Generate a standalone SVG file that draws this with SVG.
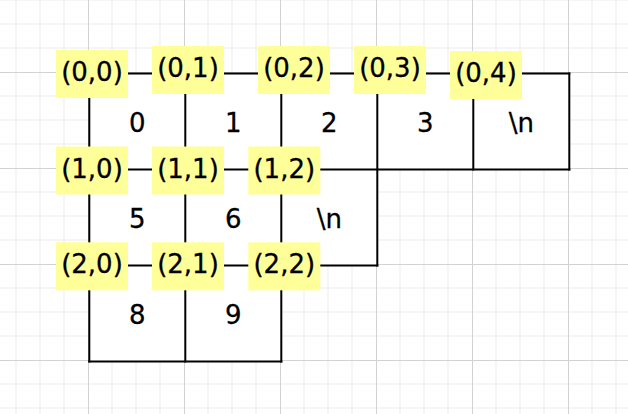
<svg xmlns="http://www.w3.org/2000/svg" width="628" height="414" viewBox="0 0 628 414">
  <style>
    .minor { stroke: #ebebeb; stroke-width: 1; fill: none; }
    .major { stroke: #d2d2d2; stroke-width: 1; fill: none; }
    .cell rect { fill: #ffffff; stroke: none; }
    .cell text { font-family: "DejaVu Sans", sans-serif; font-size: 26px; fill: #000000; stroke: #000000; stroke-width: 0.3; text-anchor: middle; }
    .edge { stroke: #000000; stroke-width: 2; fill: none; stroke-linecap: square; }
    .label rect { fill: #ffff99; stroke: none; }
    .label text { font-family: "DejaVu Sans", sans-serif; font-size: 26px; fill: #000000; stroke: #000000; stroke-width: 0.3; text-anchor: middle; }
  </style>
  <rect x="0" y="0" width="628" height="414" fill="#ffffff"/>
  <g id="grid">
    <path class="minor" d="M16 0V414M40 0V414M64 0V414M112 0V414M136 0V414M160 0V414M208 0V414M232 0V414M256 0V414M304 0V414M328 0V414M352 0V414M400 0V414M424 0V414M448 0V414M496 0V414M520 0V414M544 0V414M592 0V414M616 0V414M0 0H628M0 24H628M0 48H628M0 96H628M0 120H628M0 144H628M0 192H628M0 216H628M0 240H628M0 288H628M0 312H628M0 336H628M0 384H628M0 408H628"/>
    <path class="major" d="M88.5 0V414M184.5 0V414M280.5 0V414M376.5 0V414M472.5 0V414M568.5 0V414M0 72.5H628M0 168.5H628M0 264.5H628M0 360.5H628"/>
  </g>
  <g id="cells">
    <g id="cell-0" class="cell"><rect x="89.3" y="73.5" width="96" height="96"/><text x="137.3" y="132">0</text></g>
    <g id="cell-1" class="cell"><rect x="185.3" y="73.5" width="96" height="96"/><text x="233.3" y="132">1</text></g>
    <g id="cell-2" class="cell"><rect x="281.3" y="73.5" width="96" height="96"/><text x="329.3" y="132">2</text></g>
    <g id="cell-3" class="cell"><rect x="377.3" y="73.5" width="96" height="96"/><text x="425.3" y="132">3</text></g>
    <g id="cell-4" class="cell"><rect x="473.3" y="73.5" width="96" height="96"/><text x="521.3" y="132">\n</text></g>
    <g id="cell-5" class="cell"><rect x="89.3" y="169.5" width="96" height="96"/><text x="137.3" y="228">5</text></g>
    <g id="cell-6" class="cell"><rect x="185.3" y="169.5" width="96" height="96"/><text x="233.3" y="228">6</text></g>
    <g id="cell-7" class="cell"><rect x="281.3" y="169.5" width="96" height="96"/><text x="329.3" y="228">\n</text></g>
    <g id="cell-8" class="cell"><rect x="89.3" y="265.5" width="96" height="96"/><text x="137.3" y="324">8</text></g>
    <g id="cell-9" class="cell"><rect x="185.3" y="265.5" width="96" height="96"/><text x="233.3" y="324">9</text></g>
  </g>
  <g id="connectors">
    <path class="edge" d="M89.3 73.5H569.3M89.3 169.5H569.3M89.3 265.5H377.3M89.3 361.5H281.3"/>
    <path class="edge" d="M89.3 73.5V361.5M185.3 73.5V361.5M281.3 73.5V361.5M377.3 73.5V265.5M473.3 73.5V169.5M569.3 73.5V169.5"/>
  </g>
  <g id="labels">
    <g id="label-0-0" class="label"><rect x="56" y="50" width="72" height="48"/><text x="92" y="81">(0,0)</text></g>
    <g id="label-0-1" class="label"><rect x="152" y="46" width="72" height="48"/><text x="188" y="77">(0,1)</text></g>
    <g id="label-0-2" class="label"><rect x="258" y="46" width="72" height="48"/><text x="294" y="77">(0,2)</text></g>
    <g id="label-0-3" class="label"><rect x="354" y="46" width="72" height="48"/><text x="390" y="77">(0,3)</text></g>
    <g id="label-0-4" class="label"><rect x="450" y="51" width="72" height="48"/><text x="486" y="82">(0,4)</text></g>
    <g id="label-1-0" class="label"><rect x="56" y="146.5" width="72" height="48"/><text x="92" y="177.5">(1,0)</text></g>
    <g id="label-1-1" class="label"><rect x="152" y="146.5" width="72" height="48"/><text x="188" y="177.5">(1,1)</text></g>
    <g id="label-1-2" class="label"><rect x="248.3" y="146.5" width="72" height="48"/><text x="284.3" y="177.5">(1,2)</text></g>
    <g id="label-2-0" class="label"><rect x="56" y="242.3" width="72" height="48"/><text x="92" y="273.3">(2,0)</text></g>
    <g id="label-2-1" class="label"><rect x="152" y="242.3" width="72" height="48"/><text x="188" y="273.3">(2,1)</text></g>
    <g id="label-2-2" class="label"><rect x="248.3" y="242.3" width="72" height="48"/><text x="284.3" y="273.3">(2,2)</text></g>
  </g>
</svg>
